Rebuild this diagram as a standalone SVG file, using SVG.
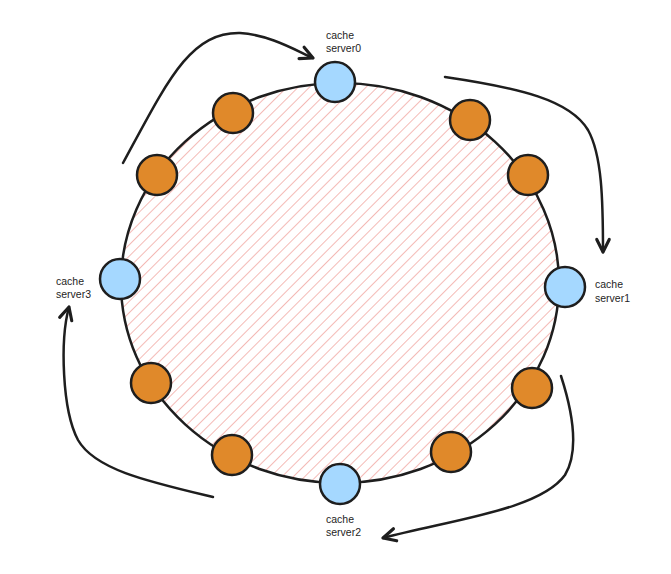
<svg xmlns="http://www.w3.org/2000/svg" width="671" height="574" viewBox="0 0 671 574">
<style>
.ring{stroke:#1e1e1e;stroke-width:2.5;fill:url(#hatch)}
.srv{fill:#a5d8ff;stroke:#1e1e1e;stroke-width:2.5}
.vn{fill:#e0892a;stroke:#1e1e1e;stroke-width:2.5}
.lbl{font-family:"Liberation Sans",Arial,sans-serif;font-size:10.5px;fill:#1e1e1e}
.arr{fill:none;stroke:#1e1e1e;stroke-width:2.5;stroke-linecap:round;marker-end:url(#ah)}
</style>
<defs>
<pattern id="hatch" patternUnits="userSpaceOnUse" width="8" height="8" patternTransform="rotate(45)">
<rect width="8" height="8" fill="#fff"/>
<line x1="0" y1="0" x2="0" y2="8" stroke="#f4bab6" stroke-width="2"/>
</pattern>
<marker id="ah" markerUnits="userSpaceOnUse" markerWidth="20" markerHeight="20" refX="0" refY="0" viewBox="-12 -8 14 16" orient="auto">
<path d="M-10,-5 L0,0 L-10,5" fill="none" stroke="#1e1e1e" stroke-width="2.5" stroke-linecap="round" stroke-linejoin="round"/>
</marker>
</defs>
<g id="ring"><ellipse class="ring" cx="340" cy="283" rx="219" ry="200"/></g>
<g id="connectors">
<path class="arr" d="M123,163 C168,80 190,32 240,33 C270,35 295,50 313,58"/>
<path class="arr" d="M445,77 C520,88 570,100 588,130 C602,155 603,200 603,252"/>
<path class="arr" d="M561,376 C572,410 580,450 565,475 C540,510 450,520 383,538"/>
<path class="arr" d="M213,497 C150,482 95,470 78,440 C62,410 60,340 69,307"/>
</g>
<g id="vnode1"><circle class="vn" cx="233" cy="113" r="20"/></g>
<g id="vnode2"><circle class="vn" cx="157" cy="175" r="20"/></g>
<g id="vnode3"><circle class="vn" cx="470" cy="120" r="20"/></g>
<g id="vnode4"><circle class="vn" cx="528" cy="175" r="20"/></g>
<g id="vnode5"><circle class="vn" cx="151" cy="383" r="20"/></g>
<g id="vnode6"><circle class="vn" cx="232" cy="455" r="20"/></g>
<g id="vnode7"><circle class="vn" cx="532" cy="388" r="20"/></g>
<g id="vnode8"><circle class="vn" cx="451" cy="452" r="20"/></g>
<g id="server0"><circle class="srv" cx="335" cy="82" r="20"/><text class="lbl" x="326" y="39">cache</text><text class="lbl" x="326" y="52">server0</text></g>
<g id="server1"><circle class="srv" cx="565" cy="287" r="20"/><text class="lbl" x="595" y="288">cache</text><text class="lbl" x="595" y="302">server1</text></g>
<g id="server2"><circle class="srv" cx="340" cy="484" r="20"/><text class="lbl" x="326" y="523">cache</text><text class="lbl" x="326" y="536">server2</text></g>
<g id="server3"><circle class="srv" cx="120" cy="279" r="20"/><text class="lbl" x="56" y="285">cache</text><text class="lbl" x="56" y="298">server3</text></g>
</svg>
